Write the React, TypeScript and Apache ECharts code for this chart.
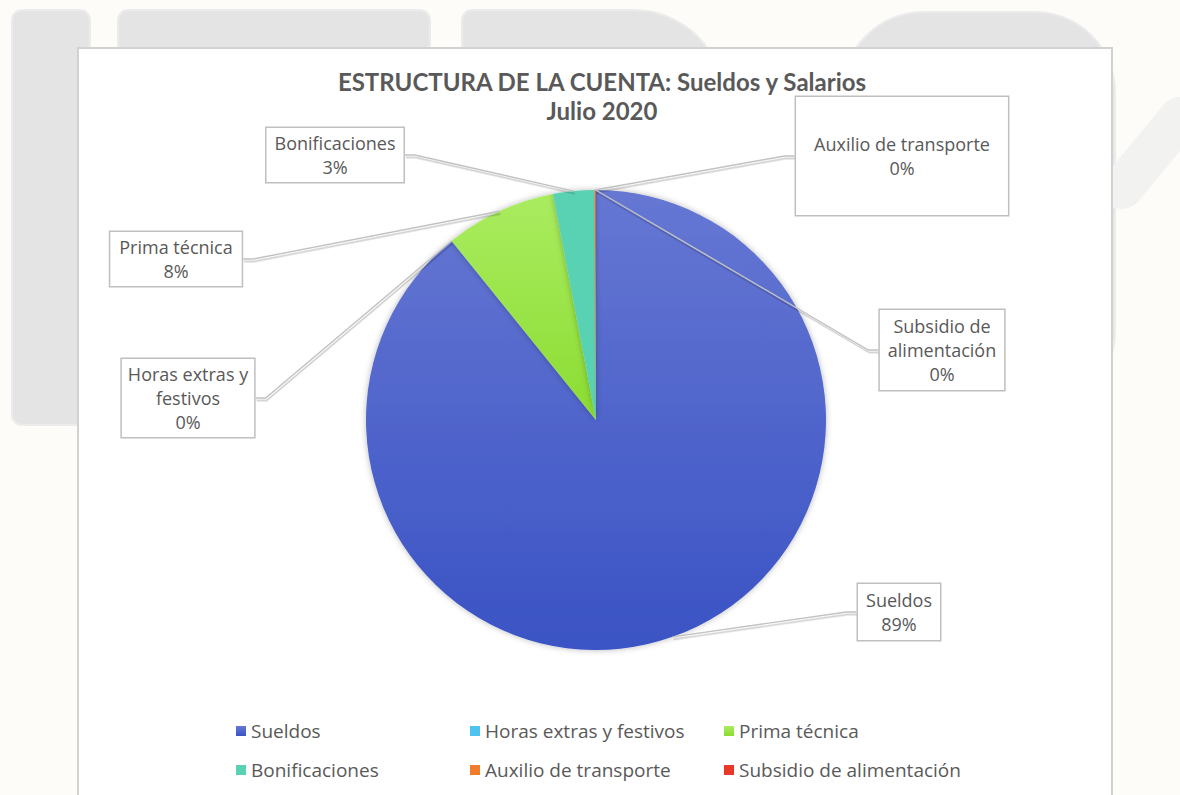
import React, { useEffect, useRef } from "react";
import * as echarts from "echarts";

// ---- data ----
const categories = [
  "Sueldos",
  "Horas extras y festivos",
  "Prima técnica",
  "Bonificaciones",
  "Auxilio de transporte",
  "Subsidio de alimentación",
];
// share of the account (%)
const values = [89.3, 0.02, 7.8, 2.9, 0.05, 0.05];
// label texts as wrapped in the callouts
const labelTexts = [
  "Sueldos",
  "Horas extras y\nfestivos",
  "Prima técnica",
  "Bonificaciones",
  "Auxilio de transporte",
  "Subsidio de\nalimentación",
];
const titleLines = ["ESTRUCTURA DE LA CUENTA: Sueldos y Salarios", "Julio 2020"];

// ---- styles ----
const sliceColors: any[] = [
  new echarts.graphic.LinearGradient(0, 0, 0, 1, [
    { offset: 0, color: "#6677d3" },
    { offset: 1, color: "#3a53c4" },
  ]),
  "#4dc4f0",
  new echarts.graphic.LinearGradient(0, 0, 0, 1, [
    { offset: 0, color: "#aaec60" },
    { offset: 1, color: "#8bdc32" },
  ]),
  "#58d2b2",
  "#f07c2c",
  "#e8382a",
];
const legendColumns = [
  ["Sueldos", "Bonificaciones"],
  ["Horas extras y festivos", "Auxilio de transporte"],
  ["Prima técnica", "Subsidio de alimentación"],
];
const legendLefts = [231, 465, 719];
// callout box centres
const labelCenters = [
  [899, 612],
  [188, 398],
  [176, 259],
  [335, 155],
  [902, 156],
  [942, 350],
];
const labelPaddings = [
  [4, 8],
  [3, 6],
  [3, 9],
  [3, 8],
  [38, 18, 32, 18],
  [4, 8],
];

const FONT = "'Open Sans', Lato, sans-serif";
const TITLE_FONT = "Lato, 'Open Sans', sans-serif";
const TXT = "#595959";
const CENTER = [596, 420];
const RADIUS = 230;

export default function App() {
  const ref = useRef<HTMLDivElement>(null);

  useEffect(() => {
    if (!ref.current) return;
    const chart = echarts.init(ref.current, undefined, { renderer: "svg" });

    const pieData = categories.map((name, i) => ({
      name,
      value: values[i],
      itemStyle: { color: sliceColors[i] },
    }));
    const labelData = categories.map((name, i) => ({
      name,
      value: values[i],
      label: { padding: labelPaddings[i] },
    }));

    const option: any = {
      animation: false,
      backgroundColor: "#fdfcf8",
      title: {
        text: titleLines.join("\n"),
        left: 597,
        top: 62,
        textAlign: "center",
        textStyle: {
          fontFamily: TITLE_FONT,
          fontWeight: "bold",
          fontSize: 24,
          lineHeight: 29,
          color: TXT,
        },
      },
      legend: legendColumns.map((col, i) => ({
        data: col,
        orient: "vertical",
        left: legendLefts[i],
        top: 715,
        itemWidth: 10,
        itemHeight: 10,
        itemGap: 17,
        icon: "rect",
        selectedMode: false,
        textStyle: {
          fontFamily: FONT,
          fontSize: 19,
          lineHeight: 22,
          color: TXT,
        },
      })),
      graphic: [
        { type: "rect", shape: { x: 12, y: 10, width: 78, height: 415, r: 10 }, style: { fill: "#e4e4e4", stroke: "#ececec", lineWidth: 2 } },
        { type: "rect", shape: { x: 118, y: 10, width: 312, height: 415, r: 10 }, style: { fill: "#e4e4e4", stroke: "#ececec", lineWidth: 2 } },
        { type: "rect", shape: { x: 462, y: 10, width: 262, height: 415, r: [10, 90, 0, 0] }, style: { fill: "#e4e4e4", stroke: "#ececec", lineWidth: 2 } },
        { type: "rect", shape: { x: 843, y: 12, width: 272, height: 400, r: 80 }, style: { fill: "#e4e4e4", stroke: "#ececec", lineWidth: 2 } },
        { type: "line", shape: { x1: 1180, y1: 118, x2: 1122, y2: 188 }, style: { stroke: "#f2f2f1", lineWidth: 42, lineCap: "round" } },
        { type: "rect", shape: { x: 78, y: 48, width: 1034, height: 770 }, style: { fill: "#ffffff", stroke: "#d2d2d2", lineWidth: 2 } },
      ],
      series: [
        {
          type: "pie",
          z: 2,
          center: CENTER,
          radius: RADIUS,
          startAngle: 90,
          clockwise: true,
          avoidLabelOverlap: false,
          itemStyle: {
            borderWidth: 0,
            shadowBlur: 6,
            shadowColor: "rgba(0,0,0,0.28)",
          },
          label: { show: false },
          labelLine: { show: false },
          emphasis: { disabled: true },
          data: pieData,
        },
        {
          // same slices, transparent, carrying the callouts above the pie
          type: "pie",
          z: 5,
          center: CENTER,
          radius: RADIUS,
          startAngle: 90,
          clockwise: true,
          avoidLabelOverlap: false,
          percentPrecision: 0,
          silent: true,
          itemStyle: { color: "rgba(0,0,0,0)", borderWidth: 0 },
          label: {
            show: true,
            position: "outside",
            formatter: (p: any) => `${labelTexts[p.dataIndex]}\n${p.percent}%`,
            fontFamily: FONT,
            fontSize: 18,
            lineHeight: 24,
            color: TXT,
            align: "center",
            backgroundColor: "#ffffff",
            borderColor: "#bfbfbf",
            borderWidth: 1.5,
          },
          labelLine: {
            show: true,
            length: 10,
            length2: 10,
            lineStyle: {
              color: "#c2c2c2",
              width: 1.4,
              shadowColor: "rgba(0,0,0,0.22)",
              shadowBlur: 1,
              shadowOffsetX: 1,
              shadowOffsetY: 2.5,
            },
          },
          labelLayout: (params: any) => {
            const c = labelCenters[params.dataIndex];
            return {
              x: c[0],
              y: c[1],
              align: "center",
              verticalAlign: "middle",
              hideOverlap: false,
            };
          },
          emphasis: { disabled: true },
          data: labelData,
        },
      ],
    };

    chart.setOption(option);
    return () => chart.dispose();
  }, []);

  return (
    <div
      ref={ref}
      style={{ position: "absolute", left: 0, top: 0, width: 1180, height: 795 }}
    />
  );
}
